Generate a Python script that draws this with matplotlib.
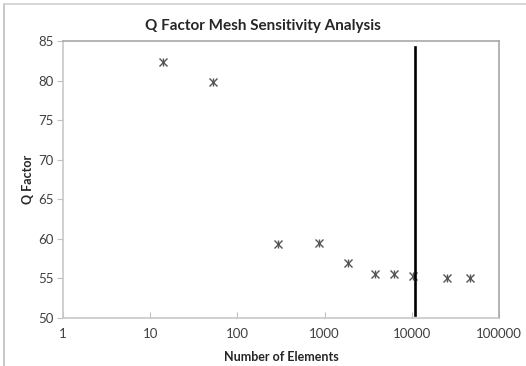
import matplotlib.pyplot as plt
from matplotlib.lines import Line2D

# mesh study results
elements = [14, 52, 294, 863, 1870, 3790, 6250, 10400, 25100, 46500]
q_factor = [82.3, 79.8, 59.3, 59.5, 56.95, 55.5, 55.5, 55.25, 55.1, 55.0]

# chosen mesh marker
chosen_elements = 11000
chosen_range = [50.4, 84.2]

plt.rcParams['font.family'] = ['Lato', 'DejaVu Sans']

fig = plt.figure(figsize=(5.26, 3.66), dpi=100)
ax = fig.add_axes([63 / 526, 1 - 318 / 366, 436 / 526, 277 / 366])

ax.plot(elements, q_factor, 'x', color='#555555', markersize=5.5, markeredgewidth=1)
ax.plot(elements, q_factor, '|', color='#555555', markersize=5.5, markeredgewidth=1)
ax.plot([chosen_elements, chosen_elements], chosen_range, color='black', linewidth=1.9)

ax.set_xscale('log')
ax.set_xlim(1, 100000)
ax.set_ylim(50, 85)
ax.set_xticks([1, 10, 100, 1000, 10000, 100000])
ax.set_xticklabels(['1', '10', '100', '1000', '10000', '100000'])
ax.minorticks_off()
ax.set_yticks([50, 55, 60, 65, 70, 75, 80, 85])

ax.tick_params(axis='x', direction='in', length=4, color='#bfbfbf', labelsize=9.5,
               labelcolor='#404040', pad=7)
ax.tick_params(axis='y', direction='out', length=4, color='#bfbfbf', labelsize=9.5,
               labelcolor='#404040', pad=3)

for side in ['left', 'bottom']:
    ax.spines[side].set_color('#c8c8c8')
for side in ['top', 'right']:
    ax.spines[side].set_color('#a8a8a8')
for s in ax.spines.values():
    s.set_linewidth(1.2)

ax.set_title('Q Factor Mesh Sensitivity Analysis', fontsize=11, fontweight='bold',
             color='#262626', x=(263 - 63) / 436, pad=8)
ax.set_xlabel('Number of Elements', fontsize=9, fontweight='bold', color='#262626', labelpad=8)
ax.set_ylabel('Q Factor', fontsize=9, fontweight='bold', color='#262626', labelpad=3)

# chart frame
fig.add_artist(Line2D([4 / 526, 4 / 526], [0, 1 - 4 / 366], transform=fig.transFigure,
                      color='#bfbfbf', linewidth=1.2))
fig.add_artist(Line2D([4 / 526, 1], [1 - 4 / 366, 1 - 4 / 366], transform=fig.transFigure,
                      color='#d0d0d0', linewidth=1.2))

fig.savefig('out.png', dpi=100)
